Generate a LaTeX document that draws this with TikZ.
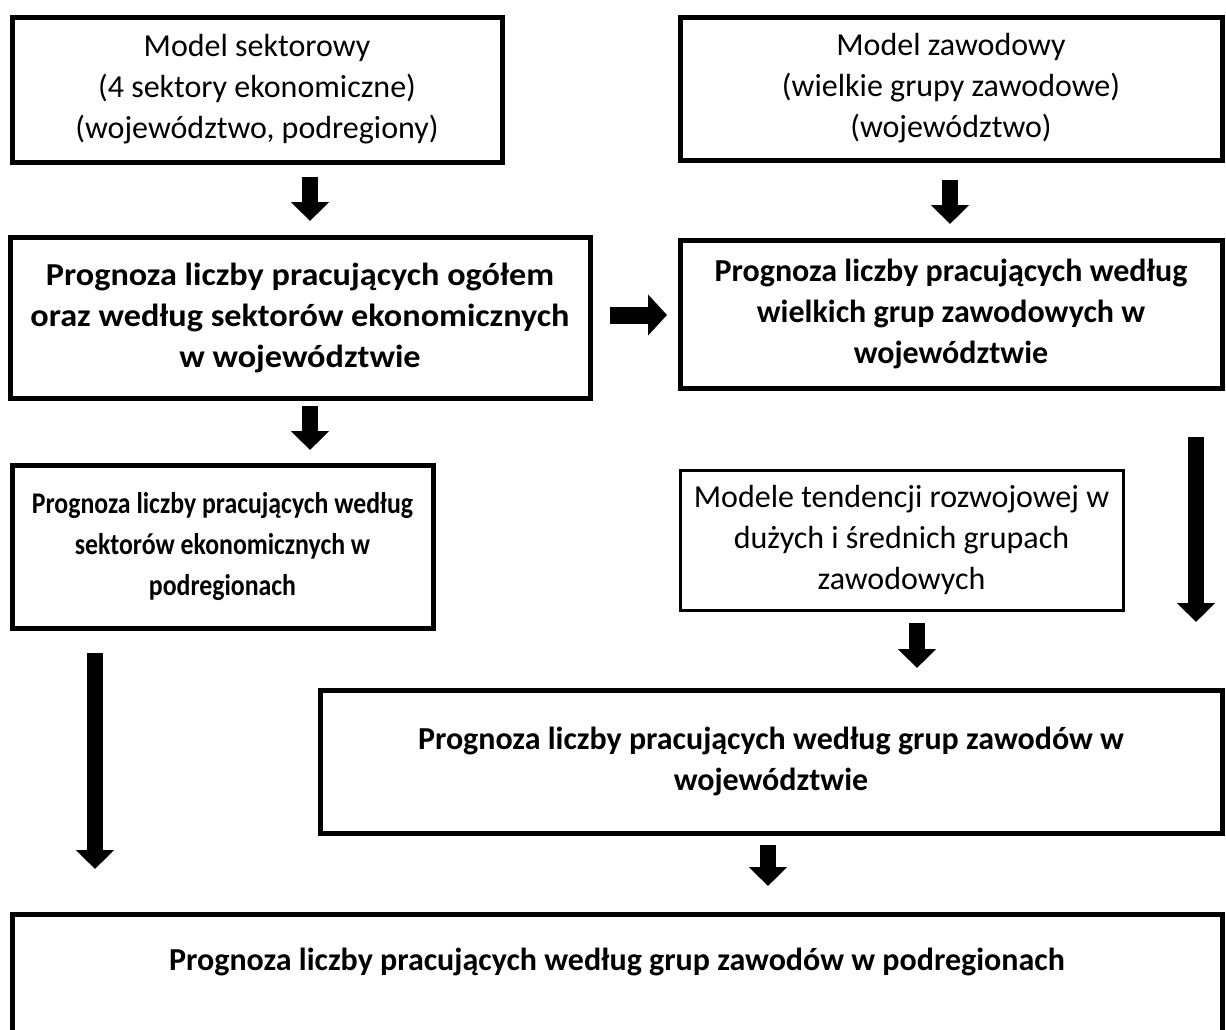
\documentclass[tikz,border=0pt]{standalone}
\usepackage{fontspec}
\setmainfont{Carlito}
\newfontfamily\widefont{Carlito}[FakeStretch=1.07]
\newfontfamily\narrowfont{Carlito}[FakeStretch=0.86]
\usetikzlibrary{arrows.meta}

\begin{document}
\begin{tikzpicture}
	[x=0.5pt,y=-0.5pt,
	 stage/.style={draw,line width=2.5pt,align=center,inner sep=0pt,
	   font=\fontsize{16}{20.5}\selectfont},
	 result/.style={stage,font=\fontsize{16}{20.5}\selectfont\bfseries},
	 blockarrow/.style={-{Triangle[width=18.5pt,length=9.5pt]},line width=8pt}]
	\useasboundingbox (0,0) rectangle (1226,1029);

	% models
	\node[stage,minimum width=245pt,minimum height=72.5pt] (sektor) at (257,89.5)
		{Model sektorowy\\(4 sektory ekonomiczne)\\(województwo, podregiony)};
	\node[stage,minimum width=271pt,minimum height=71.5pt] (zawod) at (951,88.5)
		{Model zawodowy\\(wielkie grupy zawodowe)\\(województwo)};

	% forecasts for the voivodeship
	\node[result,font=\fontsize{16}{20.5}\selectfont\widefont\bfseries,
		minimum width=290pt,minimum height=80.5pt] (ogolem) at (300,317.5)
		{Prognoza liczby pracujących ogółem\\oraz według sektorów ekonomicznych\\w województwie};
	\node[result,minimum width=271pt,minimum height=74pt] (wielkie) at (951,314)
		{Prognoza liczby pracujących według\\wielkich grup zawodowych w\\województwie};

	% second level
	\node[result,font=\fontsize{15}{20.5}\selectfont\narrowfont\bfseries,
		minimum width=210.5pt,minimum height=81.5pt] (sektorpod) at (222.5,546.5)
		{Prognoza liczby pracujących według\\sektorów ekonomicznych w\\podregionach};
	\node[stage,line width=1.5pt,minimum width=221.5pt,minimum height=70pt] (tendencje) at (901.5,540)
		{Modele tendencji rozwojowej w\\dużych i średnich grupach\\zawodowych};

	% occupation groups
	\node[result,minimum width=451pt,minimum height=71.5pt] (grupywoj) at (771,761.5)
		{Prognoza liczby pracujących według grup zawodów w\\województwie};
	\node[result,anchor=north,minimum width=605pt,inner ysep=17pt,text depth=60pt] (grupypod) at (617,912)
		{Prognoza liczby pracujących według grup zawodów w podregionach};

	% arrow ends
	\coordinate (a1s) at (310,177);  \coordinate (a1e) at (310,221);
	\coordinate (a2s) at (950,180);  \coordinate (a2e) at (950,224);
	\coordinate (a3s) at (610,315);  \coordinate (a3e) at (667,315);
	\coordinate (a4s) at (310,406);  \coordinate (a4e) at (310,450);
	\coordinate (a5s) at (1196,437); \coordinate (a5e) at (1196,622);
	\coordinate (a6s) at (95,653);   \coordinate (a6e) at (95,869);
	\coordinate (a7s) at (917,623);  \coordinate (a7e) at (917,668);
	\coordinate (a8s) at (768,845);  \coordinate (a8e) at (768,886);

	% block arrows
	\draw[blockarrow] (a1s) -- (a1e);
	\draw[blockarrow] (a2s) -- (a2e);
	\draw[blockarrow,line width=8.5pt,-{Triangle[width=20pt,length=9.5pt]}] (a3s) -- (a3e);
	\draw[blockarrow] (a4s) -- (a4e);
	\draw[blockarrow] (a5s) -- (a5e);
	\draw[blockarrow] (a6s) -- (a6e);
	\draw[blockarrow] (a7s) -- (a7e);
	\draw[blockarrow] (a8s) -- (a8e);
\end{tikzpicture}
\end{document}
